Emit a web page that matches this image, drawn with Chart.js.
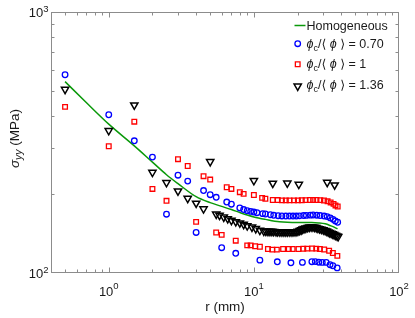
<!DOCTYPE html>
<html>
<head>
<meta charset="utf-8">
<script src="https://cdn.jsdelivr.net/npm/chart.js@4.4.0/dist/chart.umd.min.js"></script>
<style>
  html, body { margin: 0; padding: 0; background: #fff; }
  #wrap { width: 415px; height: 318px; }
</style>
</head>
<body>
<div id="wrap"><canvas id="stress-canvas" width="415" height="318"></canvas></div>
<script>
// homogeneous reference curve, r in mm and sigma_yy in MPa
let hom_r = [0.5, 0.7, 1, 1.5, 2, 2.5, 3, 4, 5, 6, 7, 8, 9, 10, 12, 15, 20, 25, 28, 31, 34, 36, 37.7]
let hom_s = [541, 450, 372, 307, 266, 238, 220, 196, 186, 180, 175, 170.5, 166.8, 164, 160.5, 157, 156, 156, 155.5, 154.3, 151.5, 149.5, 147.5]

// phi_c / <phi> = 0.70
let r_070 = [0.5, 1, 1.5, 2, 2.5, 3, 3.5, 4, 4.5, 5, 5.5, 6, 6.5, 7, 7.5, 8, 8.5, 9, 9.5, 10, 10.5, 11, 11.5, 12, 13, 13.7,
  14.5, 14.7, 15.6, 16.6, 17.6, 18, 18.6, 19.6, 20.6, 21.6, 22, 23, 24.5, 25.1, 25.6, 26.5, 27.1, 28, 28.6, 29.6, 30.5,
  31.5, 32, 33.5, 33.6, 35, 35.1, 36.4, 37.5, 37.8]
let s_070 = [575, 404, 321, 278, 168, 237, 225, 143, 207, 199.5, 195, 125, 187, 183.5, 119, 177.5, 175, 173.3, 172.2, 171.2, 170.2, 112, 168.8, 168.3, 167.2, 166.4,
  110.4, 165.8, 165.4, 165.3, 165.3, 109.4, 165.3, 165.3, 165.6, 109.8, 166, 166.2, 166.6, 110.5, 166.8, 110.6, 166.5, 110, 166, 109.8, 165.3,
  109.8, 164.5, 107.6, 162.6, 106.6, 160.5, 158.2, 104.6, 156.5]

// phi_c / <phi> = 1
let r_100 = [0.5, 1, 1.5, 2, 2.5, 3, 3.5, 4, 4.5, 5, 5.5, 6, 6.5, 7, 7.5, 8, 8.5, 9, 9.5, 10, 10.2, 11, 11.4, 12, 12.5, 13.4, 13.5, 14.4, 14.6,
  15.6, 15.9, 16.6, 17.4, 17.6, 18.5, 18.9, 20.1, 20.3, 21.4, 21.9, 22.7, 23.3, 24.3, 25.2, 25.6, 26.9, 27, 28.5, 28.7, 30.4, 30.5,
  32.2, 33, 33.8, 35, 35.4, 36.5, 37.6, 37.8]
let s_100 = [433, 306, 380, 210, 189, 273, 257, 157, 235, 228, 143, 140, 213, 210, 133, 204, 201, 127.6, 127.6, 199, 126.6, 126, 194, 192.5, 123.6, 122.9, 190.5, 122.9, 190.3,
  189.8, 123.6, 189.8, 123.6, 189.8, 123.6, 189.8, 189.8, 123.6, 190, 123.8, 190.2, 124, 190.5, 124.1, 190.5, 124, 190.5, 123.6, 190.2, 189.5, 123,
  188.2, 121.7, 186.4, 119.3, 184, 181.5, 116.3, 179.8]

// phi_c / <phi> = 1.36
let r_136 = [0.5, 1, 1.5, 2, 2.5, 3, 3.5, 4, 4.5, 5, 10, 13.5, 17, 20.4, 32, 36,
  5.5, 5.8, 6.2, 6.6, 7, 7.5, 8, 8.5, 9, 9.7, 10.3, 11, 11.7, 12.1, 12.5, 12.9, 13.3, 13.7, 14.2, 14.6, 15.1, 15.6, 16.1, 16.6,
  17.1, 17.7, 18.3, 18.9, 19.5, 20.1, 20.7, 21.2, 21.7, 22.2, 22.8, 23.5, 24.1, 24.8, 25.5, 26.2, 26.9, 27.6, 28.4, 29.2, 30.1,
  31, 31.8, 32.5, 33.3, 34.1, 34.9, 35.7, 36.6, 37.4, 38.1]
let s_136 = [505, 351, 440, 243, 222, 206, 193, 185, 176, 267, 225.9, 220.6, 221, 218.5, 222.3, 217.4,
  168, 166.2, 163.6, 161.4, 159, 157.2, 155.4, 153.5, 151.5, 149.8, 147.8, 145.6, 144.6, 144.4, 144.3, 144.3, 144.3, 144.1, 143.9, 143.8, 143.6, 143.6, 143.6, 143.6,
  143.6, 143.6, 143.6, 143.7, 143.9, 144.5, 145.3, 146.2, 147.2, 147.9, 148.5, 149.2, 149.8, 150, 150, 149.6, 149.1, 148.4, 147.6, 146.9, 146.2,
  145.4, 144.6, 143.6, 142.7, 141.9, 141.1, 140.2, 139.4, 138.6, 137.8]

// axis ranges and labelled ticks
let x_min = 0.4, x_max = 100
let y_min = 100, y_max = 1000
let x_tick_vals = [1, 10, 100]
let x_tick_exps = ['0', '1', '2']
let y_tick_vals = [100, 1000]
let y_tick_exps = ['2', '3']
let legend_vals = ['0.70', '1', '1.36']

const FONT = '"Liberation Sans", Arial, Helvetica, "DejaVu Sans", sans-serif'

function pts(rs, ss){
    return rs.map((r, i) => ({x: r, y: ss[i]}))
}

// draw a run of text pieces (text, size, style, dy) one after another
function drawPieces(ctx, pieces, x, y, align){
    let total = 0
    for (let p of pieces){
        ctx.font = p[2] + ' ' + p[1] + 'px ' + FONT
        total += ctx.measureText(p[0]).width
    }
    let cx = x
    if (align == 'center') cx = x - total / 2
    if (align == 'right') cx = x - total
    ctx.textAlign = 'left'
    ctx.textBaseline = 'alphabetic'
    for (let p of pieces){
        ctx.font = p[2] + ' ' + p[1] + 'px ' + FONT
        ctx.fillText(p[0], cx, y + p[3])
        cx += ctx.measureText(p[0]).width
    }
}

let blue_style = {pointStyle: 'circle', radius: 2.8, rotation: 0, borderWidth: 1.3}
let red_style = {pointStyle: 'rect', radius: 3.3, rotation: 0, borderWidth: 1.3}
let black_style = {pointStyle: 'triangle', radius: 4.2, rotation: 180, borderWidth: 1.5}

// box, inward ticks, tick labels, axis titles and legend
const framePlugin = {
    id: 'frame',
    afterDatasetsDraw(chart){
        let ctx = chart.ctx
        let a = chart.chartArea
        let xs = chart.scales.x
        let ys = chart.scales.y
        ctx.save()

        let L = Math.round(a.left) + 0.5, R = Math.round(a.right) - 0.5
        let T = Math.round(a.top) + 0.5, B = Math.round(a.bottom) - 0.5
        ctx.strokeStyle = '#8c8c8c'
        ctx.lineWidth = 1
        ctx.strokeRect(L, T, R - L, B - T)

        // log ticks on all four sides, pointing in
        ctx.beginPath()
        for (let d = -1; d <= 2; d++){
            for (let m = 1; m <= 9; m++){
                let v = m * Math.pow(10, d)
                if (v > x_min && v < x_max){
                    let px = Math.round(xs.getPixelForValue(v)) + 0.5
                    let len = m == 1 ? 5 : 3
                    ctx.moveTo(px, B); ctx.lineTo(px, B - len)
                    ctx.moveTo(px, T); ctx.lineTo(px, T + len)
                }
                if (v > y_min && v < y_max){
                    let py = Math.round(ys.getPixelForValue(v)) + 0.5
                    let len = m == 1 ? 5 : 3
                    ctx.moveTo(L, py); ctx.lineTo(L + len, py)
                    ctx.moveTo(R, py); ctx.lineTo(R - len, py)
                }
            }
        }
        ctx.stroke()

        ctx.fillStyle = '#1a1a1a'
        // x tick labels
        for (let i = 0; i < x_tick_vals.length; i++){
            let px = xs.getPixelForValue(x_tick_vals[i])
            drawPieces(ctx, [['10', 13, 'normal', 0], [x_tick_exps[i], 9.5, 'normal', -6.5]], px, 295.5, 'center')
        }
        // y tick labels
        for (let i = 0; i < y_tick_vals.length; i++){
            let py = ys.getPixelForValue(y_tick_vals[i])
            drawPieces(ctx, [['10', 13, 'normal', 0], [y_tick_exps[i], 9.5, 'normal', -5]], 48.5, py + 5, 'right')
        }

        // axis titles
        drawPieces(ctx, [['r (mm)', 13.5, 'normal', 0]], (a.left + a.right) / 2, 311, 'center')
        ctx.save()
        ctx.translate(14, (a.top + a.bottom) / 2 - 4)
        ctx.rotate(-Math.PI / 2)
        drawPieces(ctx, [['σ', 13.5, 'italic', 0], ['yy', 10.5, 'italic', 3], [' (MPa)', 13.5, 'normal', 0]], 0, 4.5, 'center')
        ctx.restore()

        // legend
        let mx = 297.7, tx = 306.5
        let base = [29.5, 47.5, 67.5, 89]
        ctx.strokeStyle = '#0a990a'
        ctx.lineWidth = 1.5
        ctx.beginPath()
        ctx.moveTo(294.5, base[0] - 4); ctx.lineTo(305.5, base[0] - 4)
        ctx.stroke()
        drawPieces(ctx, [['Homogeneous', 12.5, 'normal', 0]], tx, base[0], 'left')

        let styles = [blue_style, red_style, black_style]
        let colors = ['#0000ff', '#ff0000', '#000000']
        let marker_dy = [-3.8, -3.2, -2.8]
        for (let i = 0; i < 3; i++){
            ctx.strokeStyle = colors[i]
            ctx.fillStyle = 'rgba(0,0,0,0)'
            ctx.lineWidth = styles[i].borderWidth
            Chart.helpers.drawPoint(ctx, styles[i], mx, base[i + 1] + marker_dy[i])
            ctx.fillStyle = '#1a1a1a'
            drawPieces(ctx, [
                ['ϕ', 12.5, 'italic', 0], ['c', 9, 'normal', 3], ['/⟨ ', 12.5, 'normal', 0],
                ['ϕ', 12.5, 'italic', 0], [' ⟩ = ' + legend_vals[i], 12.5, 'normal', 0]
            ], tx, base[i + 1], 'left')
        }
        ctx.restore()
    }
}

let chart_data = {
    datasets: [{
        label: 'Homogeneous',
        data: pts(hom_r, hom_s),
        showLine: true,
        borderColor: '#0a990a',
        borderWidth: 1.5,
        pointRadius: 0,
        cubicInterpolationMode: 'monotone',
        order: 4
    }, {
        label: '0.70',
        data: pts(r_070, s_070),
        borderColor: '#0000ff',
        backgroundColor: 'rgba(0,0,0,0)',
        pointStyle: 'circle',
        pointRadius: blue_style.radius,
        borderWidth: blue_style.borderWidth,
        order: 3
    }, {
        label: '1',
        data: pts(r_100, s_100),
        borderColor: '#ff0000',
        backgroundColor: 'rgba(0,0,0,0)',
        pointStyle: 'rect',
        pointRadius: red_style.radius,
        borderWidth: red_style.borderWidth,
        order: 2
    }, {
        label: '1.36',
        data: pts(r_136, s_136),
        borderColor: '#000000',
        backgroundColor: 'rgba(0,0,0,0)',
        pointStyle: 'triangle',
        rotation: 180,
        pointRadius: black_style.radius,
        borderWidth: black_style.borderWidth,
        order: 1
    }]
}

let chart_options = {
    responsive: false,
    animation: false,
    devicePixelRatio: 1,
    layout: {padding: {left: 51, right: 16, top: 12, bottom: 45}},
    plugins: {legend: {display: false}, tooltip: {enabled: false}},
    scales: {
        x: {type: 'logarithmic', min: x_min, max: x_max, display: false},
        y: {type: 'logarithmic', min: y_min, max: y_max, display: false}
    }
}

let ctx = document.getElementById('stress-canvas').getContext('2d')
new Chart(ctx, {
    type: 'scatter',
    data: chart_data,
    options: chart_options,
    plugins: [framePlugin]
})
</script>
</body>
</html>
